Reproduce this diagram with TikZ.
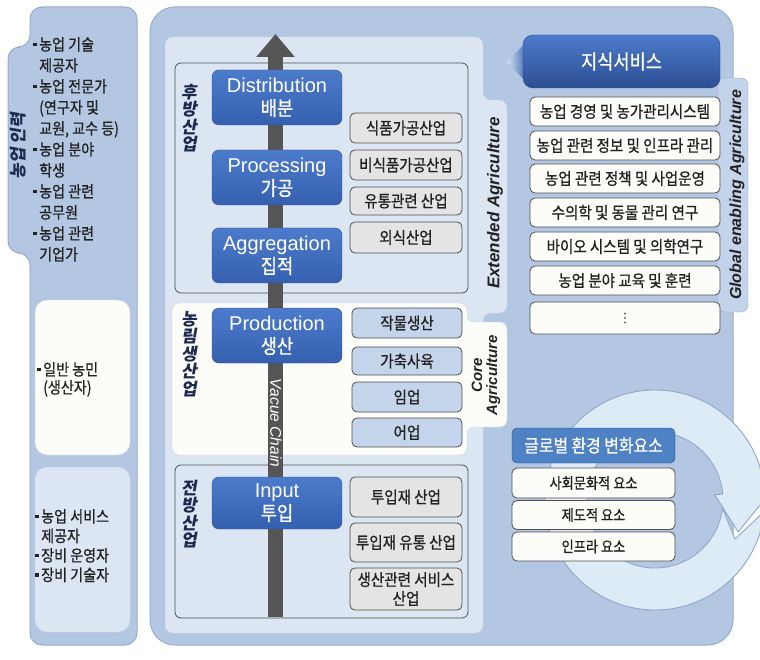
\documentclass[tikz,border=0pt]{standalone}
\usepackage{fontspec}
\setmainfont{Liberation Sans}
\newfontfamily\kr[FakeStretch=0.88,FakeBold=0.8]{Noto Sans CJK KR}
\newfontfamily\krsl[FakeSlant=0.18]{Noto Sans CJK KR}
\usetikzlibrary{arrows.meta}

\definecolor{panelblue}{HTML}{B3C6E2}
\definecolor{paneledge}{HTML}{97ADCF}
\definecolor{lightpanel}{HTML}{DCE6F2}
\definecolor{tabblue}{HTML}{C3D3EA}
\definecolor{boxtop}{HTML}{4D7BCB}
\definecolor{boxbot}{HTML}{3560B0}
\definecolor{boxedge}{HTML}{2C4E92}
\definecolor{grayfill}{HTML}{E4E4E4}
\definecolor{grayedge}{HTML}{4F4F4F}
\definecolor{prodfill}{HTML}{C4D4EB}
\definecolor{shaftgray}{HTML}{555555}
\definecolor{navy}{HTML}{1B2A4E}
\definecolor{ringfill}{HTML}{DDEBF7}
\definecolor{ringedge}{HTML}{8FA8C8}
\definecolor{globalbox}{HTML}{4F81C5}
\definecolor{paper}{HTML}{FCFCF9}
\definecolor{textdark}{HTML}{222222}
\definecolor{softedge}{HTML}{C8D3E4}

% small square bullet and its blank twin for hanging lines
\newcommand\sqb{\raisebox{0.27em}{\rule{3.5pt}{3.5pt}}\hspace{2.5pt}}
\newcommand\sqi{\hphantom{\sqb}}

\begin{document}
\begin{tikzpicture}[x=1pt,y=-1pt,
  panel/.style={fill=panelblue, draw=paneledge, line width=1pt},
  bluebox/.style={draw=boxedge, top color=boxtop, bottom color=boxbot, rounded corners=7pt,
    text=white, align=center, inner sep=0pt, minimum width=130pt,
    font=\fontsize{20}{23}\selectfont},
  sidebox/.style={draw=grayedge, line width=0.8pt, rounded corners=5pt, inner sep=0pt,
    minimum width=112pt, align=center, text=textdark, font=\kr\fontsize{16.5}{19}\selectfont},
  graybox/.style={sidebox, fill=grayfill},
  prodbox/.style={sidebox, fill=prodfill, minimum width=110pt},
  listbox/.style={draw=grayedge, fill=paper, line width=0.8pt, rounded corners=5pt,
    inner sep=0pt, minimum width=190pt, minimum height=29pt, text=textdark,
    font=\kr\fontsize{16.5}{18}\selectfont},
  envbox/.style={draw=grayedge, fill=paper, line width=0.8pt, rounded corners=5pt,
    inner sep=0pt, minimum width=163pt, minimum height=29pt, text=textdark,
    font=\kr\fontsize{15}{17}\selectfont},
  stacklabel/.style={align=center, inner sep=0pt, text=navy,
    font=\krsl\bfseries\fontsize{17}{17.5}\selectfont},
  sidetag/.style={inner sep=0pt, text=textdark, font=\bfseries\itshape},
  lefttext/.style={align=left, inner sep=0pt, anchor=north west, text=textdark},
  outline/.style={draw=grayedge, line width=0.8pt, rounded corners=6pt}
]
\useasboundingbox (0,0) rectangle (760,660);
\fill[white] (0,0) rectangle (760,660);

% ---------- left column: people ----------
\draw[panel, rounded corners=12] (30,7) -- (137,7) -- (137,645) -- (30,645) -- (30,253)
  -- (8,253) -- (8,47) -- (30,47) -- cycle;
\node[rotate=90, inner sep=0pt, text=navy, font=\krsl\bfseries\fontsize{17}{17}\selectfont]
  (people) at (18,146) {농업 인력};
\node[lefttext, font=\kr\fontsize{16}{21}\selectfont] (ppl1) at (33,37)
  {\sqb 농업 기술\\\sqi 제공자\\\sqb 농업 전문가\\\sqi (연구자 및\\\sqi 교원, 교수 등)\\
   \sqb 농업 분야\\\sqi 학생\\\sqb 농업 관련\\\sqi 공무원\\\sqb 농업 관련\\\sqi 기업가};

\draw[fill=paper, draw=softedge, rounded corners=12] (35,300) rectangle (130,455);
\node[lefttext, font=\kr\fontsize{16}{18}\selectfont] (ppl2) at (37,362)
  {\sqb 일반 농민\\\sqi (생산자)};

\draw[fill=lightpanel, draw=softedge, rounded corners=12] (35,467) rectangle (130,632);
\node[lefttext, font=\kr\fontsize{16}{19.5}\selectfont] (ppl3) at (35,509)
  {\sqb 농업 서비스\\\sqi 제공자\\\sqb 장비 운영자\\\sqb 장비 기술자};

% ---------- main panel ----------
\draw[panel, rounded corners=25] (150,7) rectangle (733,645);
\draw[fill=tabblue, draw=paneledge, rounded corners=7] (718,78) rectangle (748,312);

% extended agriculture area with its tab
\draw[fill=lightpanel, draw=softedge, rounded corners=8] (165,37) -- (483,37) -- (483,100)
  -- (507,100) -- (507,313) -- (483,313) -- (483,633) -- (165,633) -- cycle;
% core agriculture area with its tab
\draw[fill=paper, draw=softedge, rounded corners=7] (172,303) -- (467,303) -- (467,322)
  -- (507,322) -- (507,427) -- (467,427) -- (467,455) -- (172,455) -- cycle;

\draw[outline] (175,63) rectangle (468,293);
\draw[outline] (175,465) rectangle (468,618);

% value chain arrow
\coordinate (vcbot) at (275.5,617);
\coordinate (vctop) at (275.5,34);
\draw[shaftgray, line width=15pt, -{Triangle[width=37pt,length=23pt]}] (vcbot) -- (vctop);
\node[rotate=-90, inner sep=0pt, text=white, font=\itshape\fontsize{15.5}{15.5}\selectfont]
  (vc) at (276,423) {Vacue Chain};

% stage boxes
\node[bluebox, minimum height=55pt] (dist) at (277,97.5) {Distribution\\{\kr 배분}};
\node[bluebox, minimum height=55pt] (proc) at (277,177.5) {Processing\\{\kr 가공}};
\node[bluebox, minimum height=55pt] (aggr) at (277,255.5) {Aggregation\\{\kr 집적}};
\node[bluebox, minimum height=55pt] (prod) at (277,335.5) {Production\\{\kr 생산}};
\node[bluebox, minimum height=52pt] (inpt) at (277,503) {Input\\{\kr 투입}};

% industry boxes
\node[graybox, minimum height=30pt] (g1) at (406,128) {식품가공산업};
\node[graybox, minimum height=30pt] (g2) at (406,165) {비식품가공산업};
\node[graybox, minimum height=28pt] (g3) at (406,201) {유통관련 산업};
\node[graybox, minimum height=31pt] (g4) at (406,237.5) {외식산업};

\node[prodbox, minimum height=30pt] (p1) at (407,323) {작물생산};
\node[prodbox, minimum height=28pt] (p2) at (407,361) {가축사육};
\node[prodbox, minimum height=30pt] (p3) at (407,397) {임업};
\node[prodbox, minimum height=29pt] (p4) at (407,432.5) {어업};

\node[graybox, minimum height=40pt] (i1) at (406,497) {투입재 산업};
\node[graybox, minimum height=39pt] (i2) at (406,542.5) {투입재 유통 산업};
\node[graybox, minimum height=42pt] (i3) at (406,589) {생산관련 서비스\\산업};

% stage labels
\node[stacklabel] (back) at (189,118) {후\\방\\산\\업};
\node[stacklabel] (core) at (189,354) {농\\림\\생\\산\\업};
\node[stacklabel] (front) at (189,514) {전\\방\\산\\업};

\node[sidetag, rotate=90, font=\bfseries\itshape\fontsize{17}{17}\selectfont]
  (ext) at (495,203) {Extended Agriculture};
\node[sidetag, rotate=90, align=center, font=\bfseries\itshape\fontsize{15}{15}\selectfont]
  (coreag) at (486,375) {Core\\Agriculture};
\node[sidetag, rotate=90, font=\bfseries\itshape\fontsize{16}{16}\selectfont]
  (glob) at (737,195) {Global enabling Agriculture};

% ---------- knowledge services ----------
\shade[left color=tabblue!70!white, right color=boxbot] (507,62) -- (528,40) -- (528,84) -- cycle;
\node[draw=boxedge, top color=boxtop, bottom color=boxedge, rounded corners=10pt,
  minimum width=197pt, minimum height=53pt, inner sep=0pt, text=white,
  font=\kr\fontsize{20}{22}\selectfont] (ks) at (621.5,61.5) {지식서비스};

\node[listbox] (k1) at (625,111.5) {농업 경영 및 농가관리시스템};
\node[listbox] (k2) at (625,145.5) {농업 관련 정보 및 인프라 관리};
\node[listbox] (k3) at (625,178.5) {농업 관련 정책 및 사업운영};
\node[listbox] (k4) at (625,212.5) {수의학 및 동물 관리 연구};
\node[listbox] (k5) at (625,246.5) {바이오 시스템 및 의학연구};
\node[listbox] (k6) at (625,280.5) {농업 분야 교육 및 훈련};
\node[listbox, minimum height=32pt] (k7) at (625,318) {};
% vertical ellipsis in the last row
\foreach \dy in {-4.5,0,4.5}
  \fill[textdark] ([yshift=\dy pt]k7.center) circle[radius=0.8pt];

% ---------- global environment cycle ----------
\begin{scope}[shift={(655,500)}, y=1pt]
  \draw[fill=ringfill, draw=ringedge, line width=0.9pt, line join=round]
    (-7:68) -- (-26:89) -- (-6:110) arc[start angle=-6, end angle=-355, radius=110]
    -- (-355:118) -- (-21:89) -- (-355:60) -- (-355:68)
    arc[start angle=-355, end angle=-7, radius=68] -- cycle;
\end{scope}

\node[draw=boxedge, fill=globalbox, rounded corners=5pt, minimum width=163pt,
  minimum height=35pt, inner sep=0pt, text=white, font=\kr\fontsize{18}{20}\selectfont]
  (env) at (593.5,445.5) {글로벌 환경 변화요소};
\node[envbox, minimum height=30pt] (e1) at (593.5,483) {사회문화적 요소};
\node[envbox] (e2) at (593.5,515) {제도적 요소};
\node[envbox] (e3) at (593.5,546.5) {인프라 요소};
\end{tikzpicture}
\end{document}
